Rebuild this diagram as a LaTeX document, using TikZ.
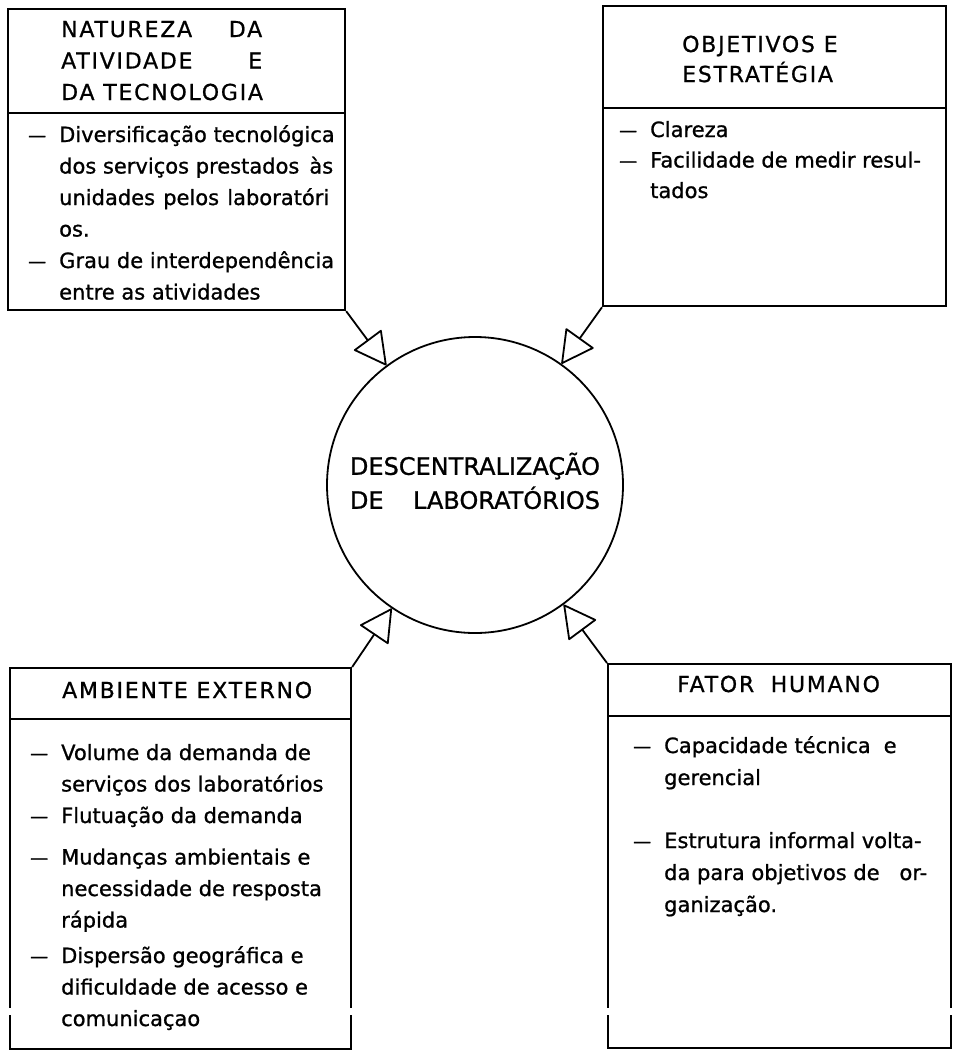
\documentclass[tikz,border=0pt]{standalone}
\usepackage{fontspec}
\setmainfont[FakeBold=1]{DejaVu Sans}
\newfontfamily\titulo[LetterSpace=8,FakeBold=0.8]{DejaVu Sans}
\usetikzlibrary{arrows.meta}
\newcommand{\traco}{\makebox[31pt][l]{\raisebox{0.5pt}{\fontsize{18}{18}\selectfont —}}}

\begin{document}
\begin{tikzpicture}[x=1pt,y=-1pt,
  caixa/.style={draw,line width=2.2pt,rectangle,anchor=north west,inner sep=0pt},
  cabec/.style={anchor=base west,inner sep=0pt},
  corpo/.style={anchor=base west,inner sep=0pt},
  seta/.style={line width=1.8pt,-{Triangle[open,round,length=33pt,width=35pt]}}]
  \useasboundingbox (0,0) rectangle (957,1050);
  % caixas
  \node[caixa,minimum width=337pt,minimum height=301pt] (natureza) at (7,8) {};
  \node[caixa,minimum width=343pt,minimum height=300pt] (objetivos) at (602,5) {};
  \node[caixa,minimum width=341pt,minimum height=381pt] (ambiente) at (9,667) {};
  \node[caixa,minimum width=343pt,minimum height=384pt] (fator) at (607,663) {};
  \draw[line width=2.2pt] (natureza.west |- 0,113) -- (natureza.east |- 0,113);
  \draw[line width=2.2pt] (objetivos.west |- 0,108) -- (objetivos.east |- 0,108);
  \draw[line width=2.2pt] (ambiente.west |- 0,719) -- (ambiente.east |- 0,719);
  \draw[line width=2.2pt] (fator.west |- 0,716) -- (fator.east |- 0,716);
  % quebras nas laterais de baixo
  \fill[white] (3,1008) rectangle (15,1015);
  \fill[white] (344,1008) rectangle (356,1015);
  \fill[white] (601,1008) rectangle (613,1015);
  \fill[white] (944,1008) rectangle (956,1015);
  % circulo central
  \node[circle,draw,line width=1.8pt,minimum size=296pt,inner sep=0pt,
        font=\fontsize{24}{34}\selectfont] (centro) at (475,485)
    {\begin{tabular}{@{}l@{}}DESCENTRALIZAÇÃO\\DE\hfill LABORATÓRIOS\end{tabular}};
  % titulos
  \node[cabec,font=\titulo\fontsize{22}{31.5}\selectfont] (natcab) at (61,37)
    {\begin{tabular}[t]{@{}l@{}}\makebox[201pt][s]{NATUREZA DA}\\
      \makebox[201pt][s]{ATIVIDADE E}\\DA TECNOLOGIA\end{tabular}};
  \node[cabec,font=\titulo\fontsize{22}{30}\selectfont] (objcab) at (682,52)
    {\begin{tabular}[t]{@{}l@{}}OBJETIVOS E\\ESTRATÉGIA\end{tabular}};
  \node[cabec,font=\titulo\fontsize{22}{30}\selectfont] (ambcab) at (62,698)
    {AMBIENTE EXTERNO};
  \node[cabec,font=\titulo\fontsize{22}{30}\selectfont] (fatcab) at (677,692)
    {FATOR\hspace{0.35em} HUMANO};
  % textos
  \node[corpo,font=\fontsize{21}{31.5}\selectfont] (natcorpo) at (28,142)
    {\begin{tabular}[t]{@{}l@{}l@{}}
      \traco & Diversificação tecnológica\\
             & \makebox[274pt][l]{dos serviços prestados\hfill às}\\
             & \makebox[270pt][s]{unidades pelos laboratóri}\\
             & os.\\
      \traco & Grau de interdependência\\
             & entre as atividades
    \end{tabular}};
  \node[corpo,font=\fontsize{21}{30.5}\selectfont] (objcorpo) at (619,137)
    {\begin{tabular}[t]{@{}l@{}l@{}}
      \traco & Clareza\\
      \traco & Facilidade de medir resul-\\
             & tados
    \end{tabular}};
  \node[corpo,font=\fontsize{21}{31.5}\selectfont] (ambcorpo) at (30,760)
    {\begin{tabular}[t]{@{}l@{}l@{}}
      \traco & Volume da demanda de\\
             & serviços dos laboratórios\\
      \traco & Flutuação da demanda\\[10pt]
      \traco & Mudanças ambientais e\\
             & necessidade de resposta\\
             & rápida\\[4pt]
      \traco & Dispersão geográfica e\\
             & dificuldade de acesso e\\
             & comunicaçao
    \end{tabular}};
  \node[corpo,font=\fontsize{21}{32}\selectfont] (fatcorpo) at (633,753)
    {\begin{tabular}[t]{@{}l@{}l@{}}
      \traco & Capacidade técnica\hspace{0.3em} e\\
             & gerencial\\[31pt]
      \traco & Estrutura informal volta-\\
             & \makebox[263pt][l]{da para objetivos de\hfill or-}\\
             & ganização.
    \end{tabular}};
  % setas
  \draw[seta] (natureza.south east) -- (centro);
  \draw[seta] (objetivos.south west) -- (centro);
  \draw[seta] (ambiente.north east) -- (centro);
  \draw[seta] (fator.north west) -- (centro);
\end{tikzpicture}
\end{document}
